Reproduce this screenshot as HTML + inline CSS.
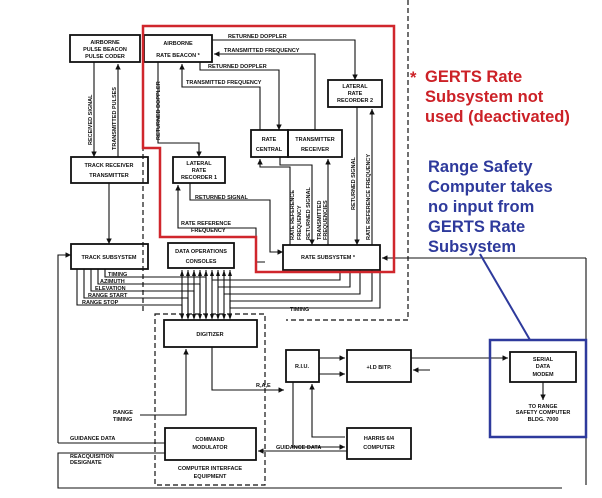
<!DOCTYPE html>
<html><head><meta charset="utf-8"><style>
html,body{margin:0;padding:0;background:#fff;}
svg{display:block;}
.b{fill:none;stroke:#111;stroke-width:1.8;}
.l{fill:none;stroke:#111;stroke-width:1.1;}
.d{fill:none;stroke:#111;stroke-width:1.2;stroke-dasharray:5,3;}
text.t{font-family:"Liberation Sans",sans-serif;font-weight:bold;font-size:5.5px;fill:#111;}
text.r{font-family:"Liberation Sans",sans-serif;font-weight:bold;font-size:16.5px;fill:#cc2127;}
text.u{font-family:"Liberation Sans",sans-serif;font-weight:bold;font-size:16.5px;fill:#2e3a9c;}
</style></head><body>
<svg width="602" height="498" viewBox="0 0 602 498" xmlns="http://www.w3.org/2000/svg">
<defs><marker id="a" viewBox="0 0 6 6" refX="6" refY="3" markerWidth="5" markerHeight="5" orient="auto"><path d="M0,0L6,3L0,6z" fill="#111"/></marker></defs>

<rect class="b" x="70" y="35" width="70" height="27"/>
<text class="t" x="105" y="44" text-anchor="middle">AIRBORNE</text>
<text class="t" x="105" y="51" text-anchor="middle">PULSE BEACON</text>
<text class="t" x="105" y="58" text-anchor="middle">PULSE CODER</text>
<rect class="b" x="144" y="35" width="68" height="27"/>
<text class="t" x="178" y="45" text-anchor="middle">AIRBORNE</text>
<text class="t" x="178" y="57" text-anchor="middle">RATE BEACON  *</text>
<rect class="b" x="328" y="80" width="54" height="27"/>
<text class="t" x="355" y="88" text-anchor="middle">LATERAL</text>
<text class="t" x="355" y="95" text-anchor="middle">RATE</text>
<text class="t" x="355" y="102" text-anchor="middle">RECORDER 2</text>
<rect class="b" x="251" y="130" width="37" height="27"/>
<text class="t" x="269" y="141" text-anchor="middle">RATE</text>
<text class="t" x="269" y="151" text-anchor="middle">CENTRAL</text>
<rect class="b" x="288" y="130" width="54" height="27"/>
<text class="t" x="315" y="141" text-anchor="middle">TRANSMITTER</text>
<text class="t" x="315" y="151" text-anchor="middle">RECEIVER</text>
<rect class="b" x="173" y="157" width="52" height="26"/>
<text class="t" x="199" y="165" text-anchor="middle">LATERAL</text>
<text class="t" x="199" y="172" text-anchor="middle">RATE</text>
<text class="t" x="199" y="179" text-anchor="middle">RECORDER 1</text>
<rect class="b" x="71" y="157" width="77" height="26"/>
<text class="t" x="109" y="167" text-anchor="middle">TRACK RECEIVER</text>
<text class="t" x="109" y="177" text-anchor="middle">TRANSMITTER</text>
<rect class="b" x="71" y="244" width="77" height="25"/>
<text class="t" x="109" y="259" text-anchor="middle">TRACK SUBSYSTEM</text>
<rect class="b" x="168" y="243" width="66" height="25"/>
<text class="t" x="201" y="253" text-anchor="middle">DATA OPERATIONS</text>
<text class="t" x="201" y="263" text-anchor="middle">CONSOLES</text>
<rect class="b" x="283" y="245" width="97" height="25"/>
<text class="t" x="328" y="259" text-anchor="middle">RATE SUBSYSTEM      *</text>

<rect class="d" x="155" y="314" width="110" height="171"/>
<rect class="b" x="164" y="320" width="93" height="27"/>
<text class="t" x="210" y="336" text-anchor="middle">DIGITIZER</text>
<rect class="b" x="165" y="428" width="91" height="32"/>
<text class="t" x="210" y="441" text-anchor="middle">COMMAND</text>
<text class="t" x="210" y="449" text-anchor="middle">MODULATOR</text>
<text class="t" x="210" y="470" text-anchor="middle">COMPUTER INTERFACE</text>
<text class="t" x="210" y="478" text-anchor="middle">EQUIPMENT</text>
<rect class="b" x="286" y="350" width="33" height="32"/>
<text class="t" x="302" y="368" text-anchor="middle">R.I.U.</text>
<rect class="b" x="347" y="350" width="64" height="32"/>
<text class="t" x="379" y="369" text-anchor="middle">+I.D BITP.</text>
<rect class="b" x="347" y="428" width="64" height="31"/>
<text class="t" x="379" y="440" text-anchor="middle">HARRIS 6/4</text>
<text class="t" x="379" y="449" text-anchor="middle">COMPUTER</text>
<rect class="b" x="510" y="352" width="66" height="30"/>
<text class="t" x="543" y="361" text-anchor="middle">SERIAL</text>
<text class="t" x="543" y="368" text-anchor="middle">DATA</text>
<text class="t" x="543" y="376" text-anchor="middle">MODEM</text>
<text class="t" x="543" y="408" text-anchor="middle">TO RANGE</text>
<text class="t" x="543" y="414" text-anchor="middle">SAFETY COMPUTER</text>
<text class="t" x="543" y="421" text-anchor="middle">BLDG. 7000</text>

<path class="l" d="M212,40H355V80" marker-end="url(#a)"/>
<text class="t" x="228" y="38">RETURNED DOPPLER</text>
<path class="l" d="M315,130V54H214" marker-end="url(#a)"/>
<text class="t" x="224" y="52">TRANSMITTED FREQUENCY</text>
<path class="l" d="M200,62V70H279V130" marker-end="url(#a)"/>
<text class="t" x="208" y="68">RETURNED DOPPLER</text>
<path class="l" d="M260,130V87H182V64" marker-end="url(#a)"/>
<text class="t" x="186" y="84">TRANSMITTED FREQUENCY</text>
<path class="l" d="M158,62V143H199V157" marker-end="url(#a)"/>
<text class="t" x="160" y="140" transform="rotate(-90 160 140)">RETURNED DOPPLER</text>
<path class="l" d="M94,62V157" marker-end="url(#a)"/>
<path class="l" d="M118,157V64" marker-end="url(#a)"/>
<text class="t" x="92" y="145" transform="rotate(-90 92 145)">RECEIVED SIGNAL</text>
<text class="t" x="116" y="150" transform="rotate(-90 116 150)">TRANSMITTED PULSES</text>
<path class="l" d="M109,183V244" marker-end="url(#a)"/>
<path class="l" d="M190,183V200H270V252H283" marker-end="url(#a)"/>
<text class="t" x="195" y="199">RETURNED SIGNAL</text>
<path class="l" d="M265,262H256V228H178V185" marker-end="url(#a)"/>
<text class="t" x="181" y="225">RATE REFERENCE</text>
<text class="t" x="191" y="232">FREQUENCY</text>
<path class="l" d="M290,245V167H260V159" marker-end="url(#a)"/>
<path class="l" d="M280,157V165H312V245" marker-end="url(#a)"/>
<path class="l" d="M328,245V159" marker-end="url(#a)"/>
<path class="l" d="M357,107V245" marker-end="url(#a)"/>
<path class="l" d="M372,245V109" marker-end="url(#a)"/>
<text class="t" x="294" y="240" transform="rotate(-90 294 240)">RATE REFERENCE</text>
<text class="t" x="301" y="240" transform="rotate(-90 301 240)">FREQUENCY</text>
<text class="t" x="310" y="240" transform="rotate(-90 310 240)">RETURNED SIGNAL</text>
<text class="t" x="321" y="240" transform="rotate(-90 321 240)">TRANSMITTED</text>
<text class="t" x="327" y="240" transform="rotate(-90 327 240)">FREQUENCIES</text>
<text class="t" x="355" y="210" transform="rotate(-90 355 210)">RETURNED SIGNAL</text>
<text class="t" x="370" y="240" transform="rotate(-90 370 240)">RATE REFERENCE FREQUENCY</text>
<path class="l" d="M586,258H382" marker-end="url(#a)"/>
<path class="l" d="M586,258V485"/>
<path class="d" d="M143,26V312"/>
<path class="d" d="M408,0V320H286"/>

<path class="l" d="M58,443V255H71" marker-end="url(#a)"/>
<path class="l" d="M77,269V305H182V318 M84,269V298H188V318 M91,269V291H194V318 M98,269V284H200V318 M105,269V277H206V318"/>
<text class="t" x="108" y="276">TIMING</text>
<text class="t" x="100" y="283">AZIMUTH</text>
<text class="t" x="95" y="290">ELEVATION</text>
<text class="t" x="88" y="297">RANGE START</text>
<text class="t" x="82" y="304">RANGE STOP</text>
<path class="l" d="M182,318V270 M188,318V270 M194,318V270 M200,318V270 M206,318V270 M212,318V270 M218,318V270 M224,318V270 M230,318V270"/>
<g fill="#111">
<path d="M180,276l2,-6l2,6z M186,276l2,-6l2,6z M192,276l2,-6l2,6z M198,276l2,-6l2,6z M204,276l2,-6l2,6z M210,276l2,-6l2,6z M216,276l2,-6l2,6z M222,276l2,-6l2,6z M228,276l2,-6l2,6z"/>
<path d="M180,314l2,6l2,-6z M186,314l2,6l2,-6z M192,314l2,6l2,-6z M198,314l2,6l2,-6z M204,314l2,6l2,-6z M210,314l2,6l2,-6z M216,314l2,6l2,-6z M222,314l2,6l2,-6z M228,314l2,6l2,-6z"/>
</g>
<path class="l" d="M212,280H340V270 M218,287H350V270 M224,294H360V270 M230,301H372V270"/>
<text class="t" x="290" y="311">TIMING</text>
<path class="l" d="M230,300V308H380V270"/>

<path class="l" d="M212,347V390H284" marker-end="url(#a)"/>
<text class="t" x="256" y="387">R,A,E</text>
<path class="l" d="M140,415H186V349" marker-end="url(#a)"/>
<text class="t" x="113" y="414">RANGE</text>
<text class="t" x="113" y="421">TIMING</text>
<path class="l" d="M319,358H345" marker-end="url(#a)"/>
<path class="l" d="M319,374H345" marker-end="url(#a)"/>
<path class="l" d="M411,358H508" marker-end="url(#a)"/>
<path class="l" d="M430,370H413" marker-end="url(#a)"/>
<path class="l" d="M543,382V400" marker-end="url(#a)"/>
<path class="l" d="M345,437H312V384" marker-end="url(#a)"/>
<path class="l" d="M293,382V447H345" marker-end="url(#a)"/>
<path class="l" d="M347,451H258" marker-end="url(#a)"/>
<text class="t" x="276" y="449">GUIDANCE DATA</text>
<path class="l" d="M58,443H165"/>
<text class="t" x="70" y="440">GUIDANCE DATA</text>
<path class="l" d="M165,453H58V488H562"/>
<text class="t" x="70" y="458">REACQUISITION</text>
<text class="t" x="70" y="464">DESIGNATE</text>

<path d="M143,26H394V272H256V237H160V148H143Z" fill="none" stroke="#d0262c" stroke-width="2.5"/>
<text class="r" x="410" y="83">*</text>
<text class="r" x="425" y="82">GERTS Rate</text>
<text class="r" x="425" y="102">Subsystem not</text>
<text class="r" x="425" y="122">used (deactivated)</text>
<rect x="490" y="340" width="96" height="97" fill="none" stroke="#2e3a9c" stroke-width="2.5"/>
<path d="M480,254L530,340" stroke="#2e3a9c" stroke-width="2"/>
<text class="u" x="428" y="172">Range Safety</text>
<text class="u" x="428" y="192">Computer takes</text>
<text class="u" x="428" y="212">no input from</text>
<text class="u" x="428" y="232">GERTS Rate</text>
<text class="u" x="428" y="252">Subsystem</text>
</svg>
</body></html>
